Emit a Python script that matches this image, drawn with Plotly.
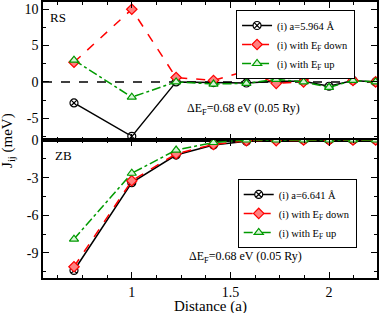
import plotly.graph_objects as go

# Neighbour-shell distances (units of a)
distance = [0.7071, 1.0, 1.2247, 1.4142, 1.5811, 1.7321, 1.8708, 2.0, 2.1213, 2.2361]

# RS panel
rs_a = [-2.9, -7.5, 0.0, -0.1, -0.15, 0.1, 0.1, -0.6, 0.2, 0.0]
rs_down = [2.7, 10.0, 0.6, 0.2, 1.5, -0.2, 0.0, 1.5, 0.2, 0.0]
rs_up = [3.0, -2.1, 0.0, -0.3, -0.2, 0.35, 0.0, -0.75, 0.2, 0.0]

# ZB panel
zb_a = [-10.4, -3.4, -1.2, -0.4, -0.1, 0.0, 0.0, 0.0, 0.0, 0.0]
zb_down = [-10.1, -3.25, -1.1, -0.35, -0.05, -0.05, 0.0, 0.0, 0.0, 0.0]
zb_up = [-7.9, -2.65, -0.8, -0.2, 0.0, 0.0, 0.0, 0.0, 0.0, 0.0]

x_ticks = [1, 1.5, 2]
x_ticktext = ["1", "1.5", "2"]
rs_ticks = [-5, 0, 5, 10]
rs_ticktext = ["-5", "0", "5", "10"]
zb_ticks = [-9, -6, -3, 0]
zb_ticktext = ["-9", "-6", "-3", "0"]

FONT = "Liberation Serif, Times New Roman, serif"
BLACK = "#000000"
RED = "#ff0000"
GREEN = "#009a00"

fig = go.Figure()

def add_set(x, y, name, color, dash, symbol, fill, xa, ya, legend):
    fig.add_trace(go.Scatter(
        x=x, y=y, name=name, mode="lines+markers",
        xaxis=xa, yaxis=ya, legend=legend,
        line=dict(color=color, width=1.5, dash=dash),
        marker=dict(symbol=symbol, size=8, color=fill,
                    line=dict(color=color, width=1.2)),
    ))

# top panel (RS)
add_set(distance, rs_a, "(i) a=5.964 Å", BLACK, "solid", "circle-x", "#ffffff", "x", "y", "legend")
add_set(distance, rs_down, "(i) with E<sub>F</sub> down", RED, "dash", "diamond", "#ff8080", "x", "y", "legend")
add_set(distance, rs_up, "(i) with E<sub>F</sub> up", GREEN, "dashdot", "triangle-up", "#d8f5d8", "x", "y", "legend")

# bottom panel (ZB)
add_set(distance, zb_a, "(i) a=6.641 Å", BLACK, "solid", "circle-x", "#ffffff", "x2", "y2", "legend2")
add_set(distance, zb_down, "(i) with E<sub>F</sub> down", RED, "dash", "diamond", "#ff8080", "x2", "y2", "legend2")
add_set(distance, zb_up, "(i) with E<sub>F</sub> up", GREEN, "dashdot", "triangle-up", "#d8f5d8", "x2", "y2", "legend2")

xr = [0.55, 2.243]
common_x = dict(range=xr, showgrid=False, zeroline=False, showline=True, linecolor=BLACK,
                linewidth=1.5, mirror="allticks", ticks="inside", ticklen=6, tickcolor=BLACK,
                tickvals=x_ticks, ticktext=x_ticktext, automargin=False,
                minor=dict(ticks="inside", ticklen=3, dtick=0.125, tick0=0.5, tickcolor=BLACK),
                tickfont=dict(family=FONT, size=14, color=BLACK))
common_y = dict(showgrid=False, zeroline=False, showline=True, linecolor=BLACK,
                linewidth=1.5, mirror="allticks", ticks="inside", ticklen=6, tickcolor=BLACK,
                automargin=False, tickfont=dict(family=FONT, size=14, color=BLACK))

fig.update_layout(
    width=382, height=313, autosize=False,
    margin=dict(l=43, r=5, t=2, b=35, pad=0),
    plot_bgcolor="white", paper_bgcolor="white",
    font=dict(family=FONT, size=12, color=BLACK),
    xaxis=dict(**common_x, domain=[0, 1], anchor="y", showticklabels=False),
    yaxis=dict(**common_y, domain=[0.5, 1], anchor="x", range=[-8, 11],
               tickvals=rs_ticks, ticktext=rs_ticktext,
               minor=dict(ticks="inside", ticklen=3, dtick=2.5, tick0=0, tickcolor=BLACK)),
    xaxis2=dict(**common_x, domain=[0, 1], anchor="y2"),
    yaxis2=dict(**common_y, domain=[0, 0.5], anchor="x2", range=[-11, 0],
                tickvals=zb_ticks, ticktext=zb_ticktext,
                minor=dict(ticks="inside", ticklen=3, dtick=1.5, tick0=0, tickcolor=BLACK)),
    legend=dict(x=0.578, y=0.971, xanchor="left", yanchor="top", bgcolor="white",
                bordercolor=BLACK, borderwidth=1, font=dict(family=FONT, size=10.5),
                itemwidth=30, tracegroupgap=0),
    legend2=dict(x=0.583, y=0.359, xanchor="left", yanchor="top", bgcolor="white",
                 bordercolor=BLACK, borderwidth=1, font=dict(family=FONT, size=10.5),
                 itemwidth=30, tracegroupgap=0),
    showlegend=True,
)

# dashed zero reference line in the RS panel
fig.add_shape(type="line", xref="x domain", yref="y", x0=0, x1=1, y0=0, y1=0,
              line=dict(color=BLACK, width=1.5, dash="dash"), layer="below")

ann_font = dict(family=FONT, size=12, color=BLACK)
fig.add_annotation(text="RS", xref="paper", yref="paper", x=0.015, y=0.945,
                   xanchor="left", yanchor="middle", showarrow=False, font=dict(family=FONT, size=13))
fig.add_annotation(text="ZB", xref="paper", yref="paper", x=0.03, y=0.445,
                   xanchor="left", yanchor="middle", showarrow=False, font=dict(family=FONT, size=13))
fig.add_annotation(text="ΔE<sub>F</sub>=0.68 eV (0.05 Ry)", xref="paper", yref="paper",
                   x=0.425, y=0.613, xanchor="left", yanchor="middle", showarrow=False, font=ann_font)
fig.add_annotation(text="ΔE<sub>F</sub>=0.68 eV (0.05 Ry)", xref="paper", yref="paper",
                   x=0.432, y=0.075, xanchor="left", yanchor="middle", showarrow=False, font=ann_font)
fig.add_annotation(text="J<sub>ij</sub> (meV)", xref="paper", yref="paper",
                   x=-0.105, y=0.5, xanchor="center", yanchor="middle", textangle=-90,
                   showarrow=False, font=dict(family=FONT, size=15))
fig.add_annotation(text="Distance (a)", xref="paper", yref="paper",
                   x=0.5, y=-0.104, xanchor="center", yanchor="middle",
                   showarrow=False, font=dict(family=FONT, size=15))

fig.write_html("out.html", config={"displayModeBar": False},
               post_script="document.body.style.margin='0';")
